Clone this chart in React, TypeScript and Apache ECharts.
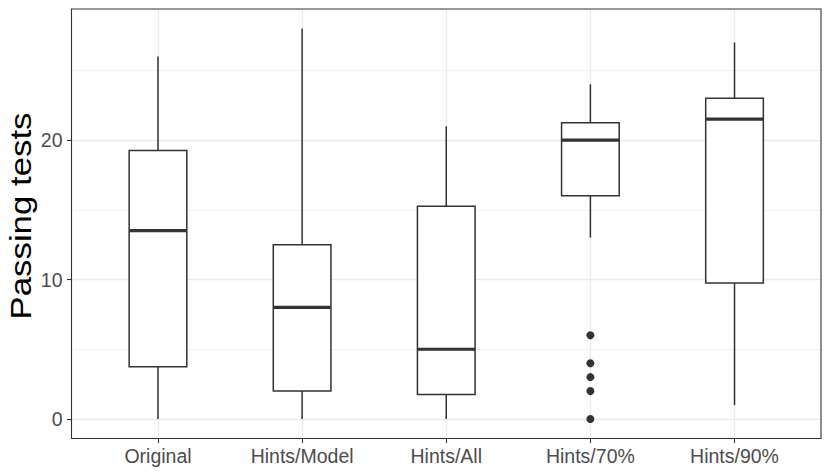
import React, { useEffect, useRef } from "react";
import * as echarts from "echarts";

const categories = ["Original", "Hints/Model", "Hints/All", "Hints/70%", "Hints/90%"];
const whiskerLow = [0, 0, 0, 13, 1];
const q1 = [3.75, 2, 1.75, 16, 9.75];
const median = [13.5, 8, 5, 20, 21.5];
const q3 = [19.25, 12.5, 15.25, 21.25, 23];
const whiskerHigh = [26, 28, 21, 24, 27];
const outlierCategory = "Hints/70%";
const outlierValues = [0, 2, 3, 4, 6];
const yTicks = [0, 10, 20];
const yMinor = [5, 15, 25];
const yTitle = "Passing tests";

const FONT = "'Liberation Sans', Arial, Helvetica, sans-serif";
const INK = "#333333";

export default function App() {
  const ref = useRef<HTMLDivElement>(null);
  useEffect(() => {
    document.body.style.margin = "0";
    const chart = echarts.init(ref.current!, null, { renderer: "svg" });
    const xIdx = categories.map((_, i) => i);
    const boxData = categories.map((_, i) => [i, whiskerLow[i], q1[i], median[i], q3[i], whiskerHigh[i]]);
    const oi = categories.indexOf(outlierCategory);
    chart.setOption({
      animation: false,
      backgroundColor: "#ffffff",
      grid: {
        left: 71.5,
        right: 9,
        top: 9,
        bottom: 36.5,
        show: true,
        borderColor: INK,
        borderWidth: 1.1,
        backgroundColor: "transparent",
        z: 10,
      },
      xAxis: {
        type: "value",
        min: -0.6,
        max: 4.6,
        axisLine: { show: false, onZero: false },
        axisTick: { show: true, customValues: xIdx, length: 4.5, lineStyle: { color: INK, width: 1.1 } },
        axisLabel: {
          customValues: xIdx,
          formatter: (v: number) => categories[Math.round(v)] ?? "",
          color: "#4d4d4d",
          fontSize: 19.5,
          fontFamily: FONT,
          margin: 7,
        },
        splitLine: { show: true, lineStyle: { color: "#ebebeb", width: 1.3 } },
      },
      yAxis: {
        type: "value",
        min: -1.4,
        max: 29.4,
        axisLine: { show: false, onZero: false },
        axisTick: { show: true, customValues: yTicks, length: 4.5, lineStyle: { color: INK, width: 1.1 } },
        axisLabel: {
          customValues: yTicks,
          color: "#4d4d4d",
          fontSize: 19.5,
          fontFamily: FONT,
          margin: 9,
        },
        splitLine: { show: true, lineStyle: { color: "#ebebeb", width: 1.3 } },
      },
      graphic: [
        {
          type: "text",
          x: 21,
          y: 216,
          rotation: Math.PI / 2,
          scaleX: 1.2,
          style: {
            text: yTitle,
            fontSize: 29,
            fontFamily: FONT,
            fill: "#000000",
            align: "center",
            verticalAlign: "middle",
          },
        },
      ],
      series: [
        {
          type: "line",
          data: [],
          z: 1,
          silent: true,
          markLine: {
            silent: true,
            symbol: "none",
            z: 1,
            label: { show: false },
            lineStyle: { color: "#ebebeb", width: 0.7, type: "solid" },
            data: yMinor.map((v) => ({ yAxis: v })),
          },
        },
        {
          type: "custom",
          z: 3,
          silent: true,
          encode: { x: 0, y: [1, 2, 3, 4, 5] },
          data: boxData,
          renderItem: (params: any, api: any) => {
            const x = api.value(0);
            const pLo = api.coord([x, api.value(1)]);
            const pQ1 = api.coord([x, api.value(2)]);
            const pMed = api.coord([x, api.value(3)]);
            const pQ3 = api.coord([x, api.value(4)]);
            const pHi = api.coord([x, api.value(5)]);
            const hw = api.size([1, 0])[0] * 0.2;
            const cx = pMed[0];
            const stroke = { stroke: INK, lineWidth: 1.5 };
            return {
              type: "group",
              children: [
                { type: "line", shape: { x1: cx, y1: pHi[1], x2: cx, y2: pQ3[1] }, style: stroke },
                { type: "line", shape: { x1: cx, y1: pQ1[1], x2: cx, y2: pLo[1] }, style: stroke },
                {
                  type: "rect",
                  shape: { x: cx - hw, y: pQ3[1], width: hw * 2, height: pQ1[1] - pQ3[1] },
                  style: { fill: "#ffffff", stroke: INK, lineWidth: 1.5 },
                },
                {
                  type: "line",
                  shape: { x1: cx - hw, y1: pMed[1], x2: cx + hw, y2: pMed[1] },
                  style: { stroke: INK, lineWidth: 3.2 },
                },
              ],
            };
          },
        },
        {
          type: "scatter",
          z: 4,
          silent: true,
          symbol: "circle",
          symbolSize: 8,
          itemStyle: { color: INK, opacity: 1 },
          data: outlierValues.map((v) => [oi, v]),
        },
      ],
    });
    return () => chart.dispose();
  }, []);
  return <div ref={ref} style={{ width: 830, height: 475, position: "absolute", left: 0, top: 0 }} />;
}
